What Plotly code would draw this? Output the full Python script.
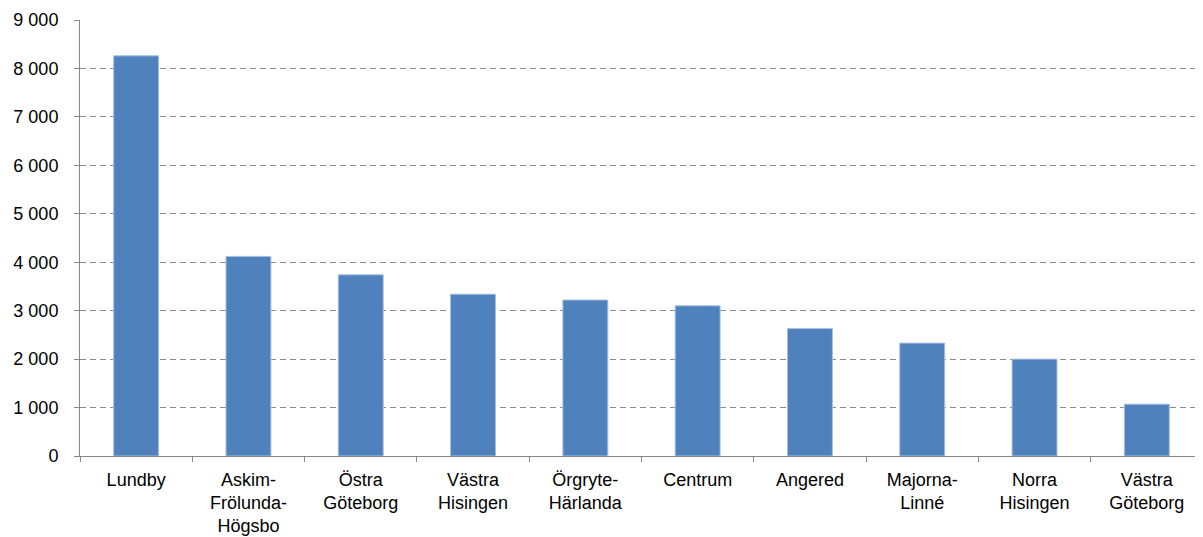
import plotly.graph_objects as go

categories = ["Lundby", "Askim-<br>Frölunda-<br>Högsbo", "Östra<br>Göteborg", "Västra<br>Hisingen",
              "Örgryte-<br>Härlanda", "Centrum", "Angered", "Majorna-<br>Linné", "Norra<br>Hisingen",
              "Västra<br>Göteborg"]
values = [8260, 4120, 3740, 3340, 3220, 3100, 2630, 2330, 2000, 1070]
y_ticks = [0, 1000, 2000, 3000, 4000, 5000, 6000, 7000, 8000, 9000]

fig = go.Figure(go.Bar(
    x=categories, y=values,
    marker=dict(color="#4F81BD", line=dict(color="#A7BFDE", width=1)),
))

fig.update_layout(
    width=1195, height=529,
    margin=dict(l=72, r=0, t=12, b=81),
    plot_bgcolor="white", paper_bgcolor="white",
    separators=", ",
    bargap=0.6,
    showlegend=False,
    font=dict(family="Liberation Sans, Arial, sans-serif", size=18, color="#000000"),
)
fig.update_yaxes(
    range=[0, 9000], tickvals=y_ticks, tickformat=",d",
    showgrid=True, gridcolor="#8C8C8C", gridwidth=1, griddash="6px,4px",
    showline=True, linecolor="#868686", linewidth=1,
    ticks="outside", ticklen=5, tickcolor="#868686",
    zeroline=False, ticklabelstandoff=12, automargin=False,
)
fig.update_xaxes(
    showline=True, linecolor="#868686", linewidth=1,
    ticks="outside", ticklen=5, tickcolor="#868686",
    tickson="boundaries", showgrid=False, tickangle=0, automargin=False,
    ticklabelstandoff=7,
)

fig.write_html("out.html")
